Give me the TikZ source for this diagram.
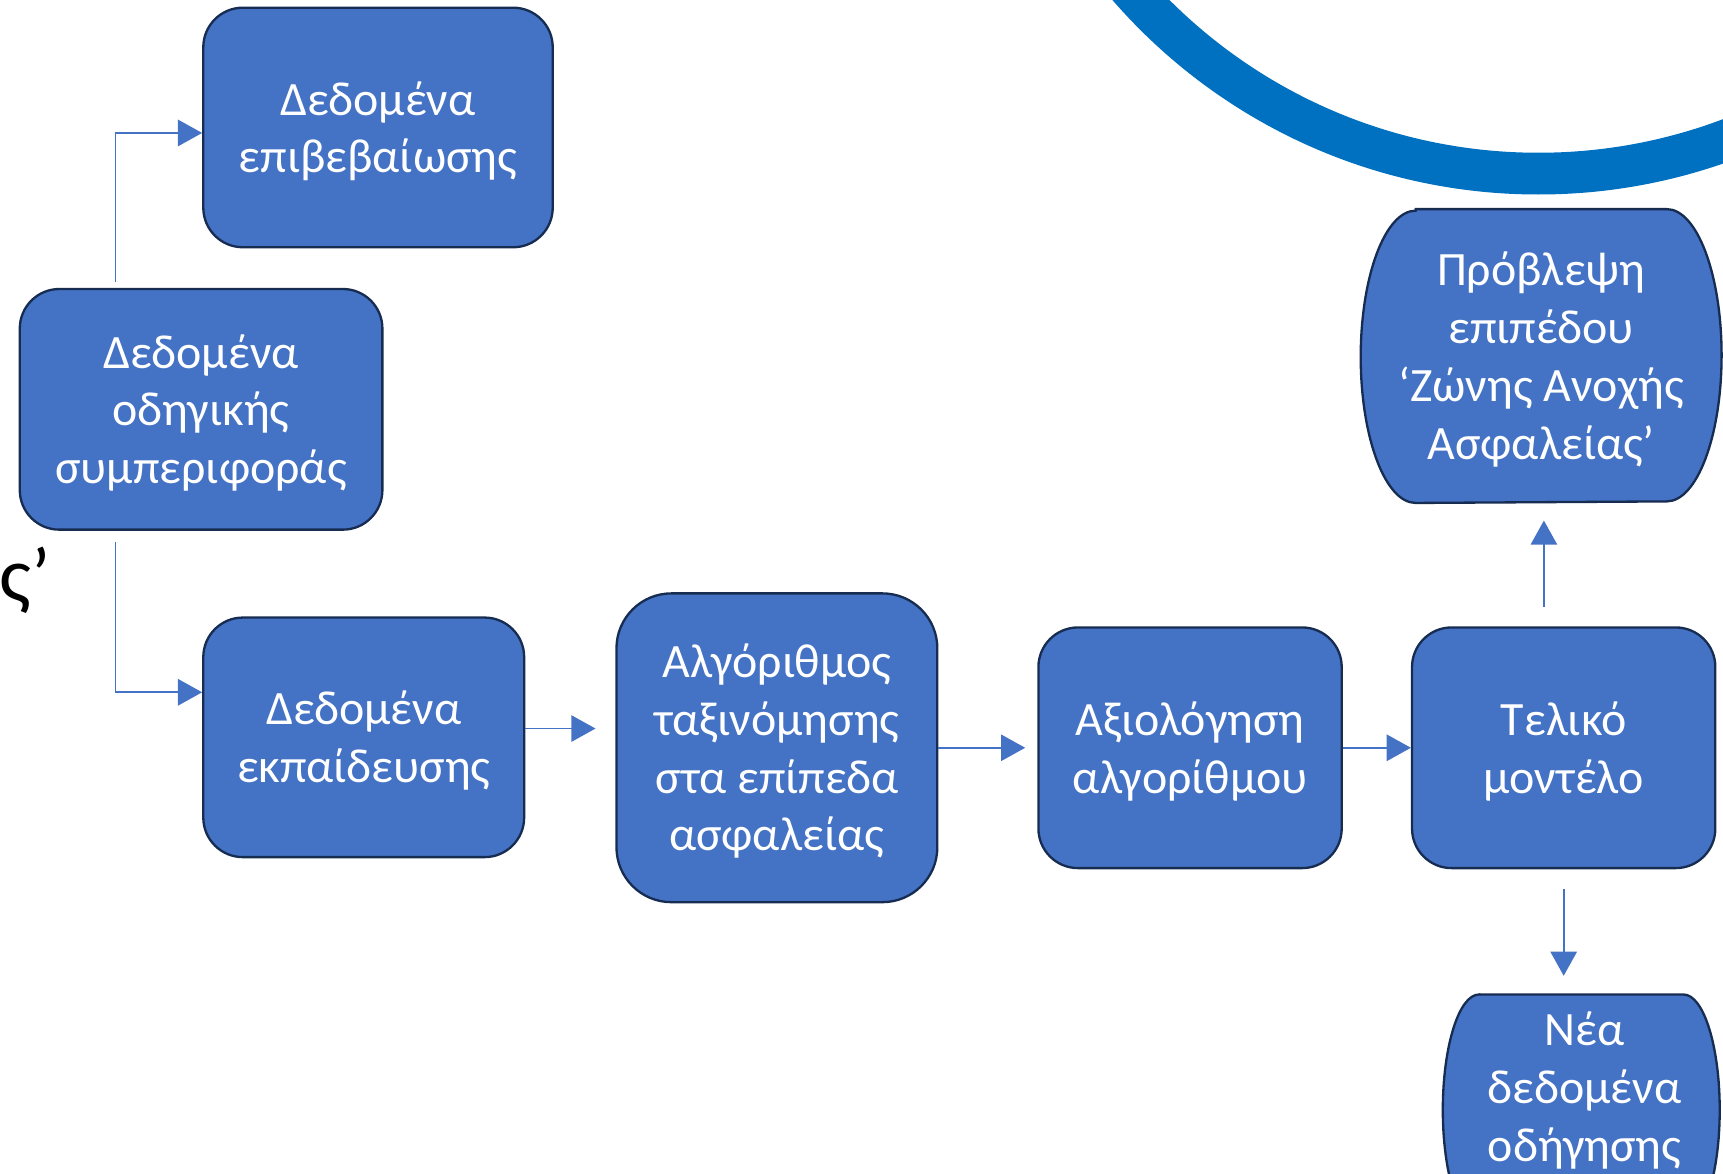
\documentclass[tikz,border=0pt]{standalone}
\usepackage{fontspec}
\setmainfont{Carlito}
\usetikzlibrary{arrows.meta,calc,backgrounds}
\definecolor{boxfill}{HTML}{4472C4}
\definecolor{boxline}{HTML}{172C51}
\definecolor{ringcol}{HTML}{0070C0}
\newcommand\lowtext[1]{\raisebox{-0.045cm}[\height][\depth]{\begin{tabular}{@{}c@{}}#1\end{tabular}}}
\begin{document}
\begin{tikzpicture}[x=1cm,y=1cm,
  box/.style={draw=boxline, line width=0.6pt, fill=boxfill, rounded corners=0.36cm,
    text=white, font=\fontsize{12.4}{14.95}\selectfont, inner sep=0pt},
  pilltext/.style={text=white, font=\fontsize{12.4}{14.95}\selectfont, inner sep=0pt},
  pill/.style={draw=boxline, line width=0.6pt, fill=boxfill},
  conn/.style={draw=boxfill, line width=0.45pt, -{Triangle[length=0.22cm,width=0.24cm]}}]
\useasboundingbox (0,0) rectangle (15.68,-10.68);

% big ring
\begin{scope}
\clip (0,0) rectangle (15.68,-10.68);
\draw[ringcol, line width=0.38cm] (14.00,3.36) circle[radius=4.94];
\end{scope}

% fragment text
\node[anchor=base west, inner sep=0pt, font=\fontsize{20}{24}\selectfont] (frag) at (-0.01,-5.47) {ς’};

% boxes
\node[box, minimum width=3.18cm, minimum height=2.18cm] (A) at (3.44,-1.16) {\lowtext{Δεδομένα\\επιβεβαίωσης}};
\node[box, minimum width=3.30cm, minimum height=2.19cm] (B) at (1.83,-3.725) {\lowtext{Δεδομένα\\οδηγικής\\συμπεριφοράς}};
\node[box, minimum width=2.92cm, minimum height=2.18cm] (C) at (3.31,-6.71) {\lowtext{Δεδομένα\\εκπαίδευσης}};
\node[box, minimum width=2.92cm, minimum height=2.81cm, rounded corners=0.5cm] (D) at (7.07,-6.805) {\lowtext{Αλγόριθμος\\ταξινόμησης\\στα επίπεδα\\ασφαλείας}};
\node[box, minimum width=2.76cm, minimum height=2.19cm] (E) at (10.83,-6.805) {\lowtext{Αξιολόγηση\\αλγορίθμου}};
\node[box, minimum width=2.76cm, minimum height=2.19cm] (F) at (14.23,-6.805) {\lowtext{Τελικό\\μοντέλο}};

% pill G
\node[pilltext, minimum width=3.27cm, minimum height=2.66cm] (G) at (14.025,-3.24) {\lowtext{Πρόβλεψη\\επιπέδου\\‘Ζώνης Ανοχής\\Ασφαλείας’}};
\begin{scope}[on background layer]
\path[pill] ($(G.north west)+(0.5,0)$) -- ($(G.north east)+(-0.5,0)$)
  arc[start angle=90,end angle=-90,x radius=0.5,y radius=1.33]
  -- ($(G.south west)+(0.5,0)$)
  arc[start angle=270,end angle=90,x radius=0.5,y radius=1.33] -- cycle;
\end{scope}

% pill H (cut by the bottom edge)
\node[pilltext] (H) at (14.42,-9.89) {\lowtext{Νέα\\δεδομένα\\οδήγησης}};
\coordinate (Htop) at (14.39,-9.05);
\begin{scope}[on background layer]
\clip (0,0) rectangle (15.68,-10.68);
\path[pill] (13.46,-9.05) -- (15.32,-9.05)
  arc[start angle=90,end angle=-90,x radius=0.33,y radius=1.05]
  -- (13.46,-11.15)
  arc[start angle=270,end angle=90,x radius=0.33,y radius=1.05] -- cycle;
\end{scope}

% connectors
\draw[conn] ([xshift=-0.78cm,yshift=0.05cm]B.north) |- ([yshift=-0.05cm]A.west);
\draw[conn] ([xshift=-0.78cm,yshift=-0.10cm]B.south) |- ([yshift=0.41cm]C.west);
\coordinate (c1) at ($(C.east)+(0,0.08)$);
\draw[conn, shorten >=0.18cm] (c1) -- (c1 -| D.west);
\draw[conn, shorten >=0.11cm] (D.east) -- (E.west);
\draw[conn] (E.east) -- (F.west);
\coordinate (f1) at ($(F.north)+(-0.18,0.18)$);
\draw[conn, shorten >=0.16cm] (f1) -- (f1 |- G.south);
\coordinate (f2) at ($(F.south)+(0,-0.18)$);
\draw[conn, shorten >=0.17cm] (f2) -- (f2 |- Htop);
\end{tikzpicture}
\end{document}
